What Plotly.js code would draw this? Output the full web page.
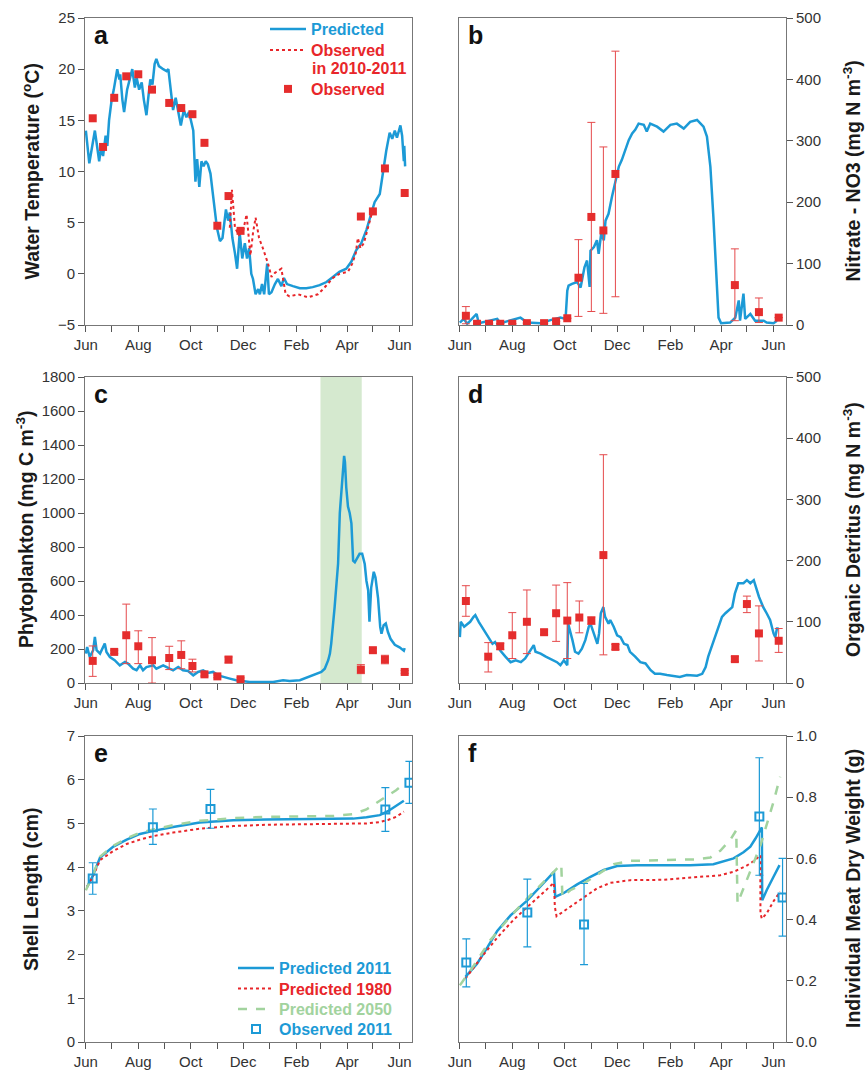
<!DOCTYPE html>
<html><head><meta charset="utf-8">
<script src="https://cdn.plot.ly/plotly-3.0.1.min.js"></script>
<style>html,body{margin:0;padding:0;background:#fff}#chart{width:867px;height:1076px}</style>
</head><body><div id="chart"></div>
<script>
// ---- x values are days since 1 June 2010 ----
const bloomPeriod = ['2011-03-01', '2011-04-18'];

// (a) water temperature
const tempPredDay = [0,4,10.5,15.5,18,20,23,25,27,30,32.5,36.5,39,40,42.5,44.5,48,52,54,57,59,62,65,67.5,70.5,73,75,77.5,80,82,85,90,94,96,98.5,101.5,104.5,107.5,110.5,114,117,120,123,125,127.5,129.5,132,134.5,137,139.5,142,145,147.5,150,152.5,156,159,163,165.5,167.5,170.5,173.5,176,179,182,185,187.5,190,192.5,194.5,197.5,200.5,202.5,205,207.5,211,213,216,220,223.5,227.5,230.5,234,241,249,256.5,264,272,280,287.5,295,303,309,314.5,320.5,326.5,332,336,342,345.5,349.5,353.5,356.5,359.5,362,366,368,370,370.5,371.5];
const tempPred = [14,10.8,14,11,12.5,11.5,13.5,12.5,15,17,18,20,19,19.5,17,15.8,18,19.5,20,18.2,19.2,18,18.7,17,15.5,17.5,19,18.5,20.5,21,20.3,20,19.8,20,18,16,17.2,16,14.5,16,15.3,15.8,14.5,14,9,11.2,8.5,11,10.5,11,10.7,9.8,8,6,4.5,3.2,3.5,6.3,5.2,6,3.5,2,0.5,4,1.5,3,1.5,2.5,0,-0.5,-2,-1.5,-2,-1,-2,1,-2,-1.8,-1,-0.5,-1.2,-0.4,-1,-1.2,-1.4,-1.4,-1.3,-1.1,-0.8,-0.3,0.2,0.5,1.2,2.3,3,4.3,6,7,7.8,9.8,12,13.8,13.2,14,13.3,14.5,13.5,11,12.5,10.5];
const tempObsLineDay = [167.5,170,173.5,178,183,187,191.5,194.5,197.5,201.5,206,212,216,220,227.5,230.5,232.5,237,247,258.5,270,276,282,287.5,295,305,310,314,316.5,319.5,323.5,327.5,331,334];
const tempObsLine = [4.5,8.2,4.5,3.8,4.2,5.8,1.8,4,5.5,3.5,2.5,1,-0.3,0.1,0.5,-1,-2,-2.2,-2,-2.3,-2,-1.5,-0.9,-0.4,0,0.2,1,2,3.5,2.5,3,4.3,5.3,6.3];
const tempObsDay = [8,20,33,47,61,77,97,111,124,138,153,166,180,320,334,348,371];
const tempObs = [15.2,12.4,17.2,19.3,19.5,18.0,16.7,16.2,15.6,12.8,4.7,7.6,4.2,5.6,6.1,10.3,7.9];

// (b) nitrate
const nitPredDay = [0,4.5,8.5,19.5,22,43.5,47.5,70.5,78.5,94,105.5,117,123,125,126.5,130.5,136.5,140.5,142,145,148,151,152,156,159.5,161.5,164.5,167.5,169.5,173,177,181,185,188.5,192.5,196.5,200.5,204,208,214,217.5,221.5,229.5,237,245,252.5,260.5,268,276,279.5,283.5,287.5,291.5,295,298.5,301,304,314.5,320.5,324.5,326,330,332,338,343.5,353.5,357,365,369];
const nitPred = [4,10,2,18,3,10,3,12,4,3,8,12,10,56,64,67,70,61,72,94,105,62,121,127,138,116,149,138,170,181,209,236,258,269,285,301,312,318,328,326,315,328,323,315,326,328,320,331,334,328,323,307,258,176,67,12,3,4,12,40,7,51,10,18,7,7,4,3,7];
const nitObsDay = [7,20,34,47,61,78,98,112,125,138,153,167,181,320,348,371];
const nitObs = [15,2,2,2,2,3,3,6,11,77,176,154,246,65,21,12];
const nitObsPlus = [15,0,0,0,0,0,0,0,0,62,154,136,200,59,23,0];
const nitObsMinus = [13,0,0,0,0,0,0,0,0,63,154,135,200,58,17,0];

// (c) phytoplankton
const phytoPredDay = [0,1.5,4.5,8.5,10.5,12.5,16.5,20,22,24,28,33.5,39.5,45.5,49,55,59,63,66.5,70.5,78.5,82,90,97.5,101.5,107.5,113,119,125,130.5,136.5,142,148,154,159.5,167.5,175,183,190.5,202.5,218,229.5,237,249,256.5,264.5,270,274,278,282,284,285.5,289.5,293.5,295.5,298.5,300.5,301.5,303,305,307,309,310,311,313,315.5,318.5,321.5,324.5,326.5,328.5,330,332,335,337,340,342.5,344,346.5,349,351.5,354.5,359.5,365,370,371];
const phytoPred = [173,212,153,193,271,193,173,212,232,183,153,134,104,124,114,84,75,104,75,94,104,84,104,84,75,94,75,71,45,65,75,59,65,45,39,26,16,10,6,6,6,16,12,16,31,45,55,65,84,134,173,232,448,703,1000,1214,1336,1300,1150,1038,1000,939,850,720,710,730,760,760,700,600,546,360,560,654,620,500,330,290,340,350,300,260,225,210,190,205];
const phytoObsDay = [8,33,47,61,77,97,111,124,138,153,166,180,320,334,348,371];
const phytoObs = [130,183,281,216,134,147,165,100,51,39,138,22,79,193,138,65];
const phytoObsPlus = [88,10,183,91,133,69,83,40,10,8,15,8,29,12,25,8];
const phytoObsMinus = [91,10,167,102,134,68,81,35,10,8,20,8,24,12,25,8];

// (d) organic detritus
const detPredDay = [0,1,5,9,12,16,18,22,28,34,38,41,47,53,59,65,71,76,82,86,88,94,100,105,113,117,121,125,126,131,134,138,142,146,150,152,156,160,162,164,167,169,173,175,179,183,187,191,195,198,204,210,216,222,227,233,241,249,256,264,276,282,286,289,293,297,301,305,309,313,317,320,324,330,334,338,342,348,353,357,361,365,367,369,371];
const detPred = [75,100,92,97,100,108,111,100,86,73,64,67,53,43,34,37,34,40,53,62,51,48,43,40,34,29,37,29,97,70,51,48,56,70,92,97,81,64,81,114,124,108,97,103,92,78,75,64,62,51,43,34,32,21,15,15,13,11,10,13,12,15,26,43,59,75,92,108,114,119,124,146,163,163,168,163,168,141,124,114,103,81,75,89,89];
const detObsDay = [7,33,47,61,78,98,112,125,139,153,167,181,320,334,348,371];
const detObs = [134,43,60,78,100,83,114,102,107,102,209,59,39,129,81,69];
const detObsPlus = [25,23,5,37,52,4,46,62,27,6,164,4,4,13,45,20];
const detObsMinus = [25,25,5,38,52,4,46,62,25,6,163,4,4,14,45,19];

// (e) shell length
const shellDay = [1.5,8.5,16.5,32,47.5,63,78.5,101.5,132.5,171.5,210,249,287.5,311,326.5,342,351.5,361,370];
const shell2011 = [3.55,3.82,4.22,4.47,4.63,4.76,4.83,4.92,5.02,5.07,5.09,5.10,5.11,5.11,5.14,5.19,5.28,5.40,5.52];
const shell1980 = [3.55,3.80,4.16,4.37,4.53,4.63,4.71,4.79,4.88,4.94,4.97,4.98,4.98,4.99,5.00,5.03,5.08,5.15,5.27];
const shell2050Day = [0,8.5,16.5,32,47.5,63,78.5,101.5,132.5,171.5,210,249,287.5,311,326.5,342,351.5,361,370];
const shell2050 = [3.47,3.84,4.24,4.49,4.66,4.79,4.86,4.96,5.06,5.12,5.15,5.16,5.17,5.21,5.32,5.52,5.64,5.76,5.90];
const shellObsDay = [8,78,145,348.5,376.5];
const shellObs = [3.74,4.91,5.33,5.32,5.93];
const shellObsPlus = [0.36,0.42,0.45,0.50,0.49];
const shellObsMinus = [0.36,0.39,0.44,0.50,0.47];

// (f) meat dry weight
const wt2011Day = [6.5,20,32,43.5,59,78.5,94,109.5,111,121,136.5,152,167.5,183,206,237,268,295,307,318.5,330,338,344,351.4,351.8,357,365,372];
const wt2011 = [0.213,0.256,0.309,0.363,0.414,0.463,0.509,0.556,0.474,0.487,0.515,0.540,0.562,0.575,0.578,0.578,0.578,0.581,0.590,0.600,0.620,0.638,0.665,0.701,0.463,0.496,0.540,0.578];
const wt1980Day = [6.5,24,43.5,63,82,101.5,109.5,110.5,112.5,128.5,144,159.5,175,198.5,237,280,303,318.5,333,343.5,349.5,349.8,351.4,357,365,372.7];
const wt1980 = [0.207,0.273,0.341,0.401,0.450,0.498,0.520,0.442,0.411,0.442,0.472,0.502,0.520,0.529,0.530,0.540,0.545,0.556,0.575,0.594,0.611,0.420,0.403,0.420,0.460,0.491];
const wt2050Day = [0,16.5,35.5,55,74.5,94,113,118,119.3,128.5,144,159.5,179,198.5,237,276,291.5,303,314.5,321.6,323.1,349.5,365,372.7];
const wt2050 = [0.185,0.251,0.333,0.398,0.458,0.513,0.567,0.581,0.474,0.496,0.518,0.545,0.581,0.592,0.594,0.597,0.603,0.625,0.660,0.692,0.453,0.640,0.785,0.867];
const wtObsDay = [7.5,78.5,144.5,348.5,375.5];
const wtObs = [0.260,0.423,0.384,0.737,0.472];
const wtObsPlus = [0.077,0.109,0.134,0.192,0.128];
const wtObsMinus = [0.080,0.112,0.131,0.192,0.126];

// ---- helpers ----
const BASE = Date.UTC(2010, 5, 1);
function toDate(d) { return new Date(BASE + Math.round(d * 86400000)).toISOString().slice(0, 19).replace('T', ' '); }
const dates = arr => arr.map(toDate);

const FONT = 'Liberation Sans, Arial, Helvetica, sans-serif';
const BLUE = '#1c9ad6', RED = '#e8262a', GREEN = '#a2d39e', SQRED = '#e52d2d';
const W = 867, H = 1076;
const px = v => v / W, py = v => 1 - v / H;

const colL = [px(85), px(412)], colR = [px(459), px(786)];
const row1 = [py(325), py(18)], row2 = [py(683), py(377)], row3 = [py(1042), py(736)];

function col(text, c) { return '<span style="color:' + c + '"><b>' + text + '</b></span>'; }

const traces = [];
function line(xa, ya, xd, yd, color, width, dash, name, legend) {
  traces.push({ type: 'scatter', mode: 'lines', x: dates(xd), y: yd, xaxis: xa, yaxis: ya,
    line: { color: color, width: width, dash: dash || 'solid' }, name: name || '', legend: legend || 'legend',
    showlegend: !!name, hoverinfo: 'skip' });
}
function pts(xa, ya, xd, yd, plus, minus, opts) {
  const t = { type: 'scatter', mode: 'markers', x: dates(xd), y: yd, xaxis: xa, yaxis: ya,
    marker: opts.marker, name: opts.name || '', legend: opts.legend || 'legend', showlegend: !!opts.name, hoverinfo: 'skip' };
  if (plus) t.error_y = { type: 'data', symmetric: false, array: plus, arrayminus: minus, color: opts.ecolor, thickness: opts.ethick || 1, width: 4 };
  traces.push(t);
}
const redSq = { symbol: 'square', size: 8, color: SQRED };
const blueOpen = { symbol: 'square-open', size: 8, color: BLUE, line: { width: 2, color: BLUE } };

// (a)
line('x', 'y', tempPredDay, tempPred, BLUE, 2.5, 'solid', col('Predicted', BLUE), 'legend');
line('x', 'y', tempObsLineDay, tempObsLine, RED, 2, 'dot', col('Observed', RED), 'legend3');
pts('x', 'y', tempObsDay, tempObs, null, null, { marker: redSq, name: col('Observed', RED), legend: 'legend4' });
// (b)
line('x2', 'y2', nitPredDay, nitPred, BLUE, 2.5);
pts('x2', 'y2', nitObsDay, nitObs, nitObsPlus, nitObsMinus, { marker: redSq, ecolor: '#e54a4c' });
// (c)
line('x3', 'y3', phytoPredDay, phytoPred, BLUE, 2.5);
pts('x3', 'y3', phytoObsDay, phytoObs, phytoObsPlus, phytoObsMinus, { marker: redSq, ecolor: '#e54a4c' });
// (d)
line('x4', 'y4', detPredDay, detPred, BLUE, 2.5);
pts('x4', 'y4', detObsDay, detObs, detObsPlus, detObsMinus, { marker: redSq, ecolor: '#e54a4c' });
// (e)
line('x5', 'y5', shellDay, shell2011, BLUE, 2.5, 'solid', col('Predicted 2011', BLUE), 'legend2');
line('x5', 'y5', shellDay, shell1980, RED, 2, 'dot', col('Predicted 1980', RED), 'legend5');
line('x5', 'y5', shell2050Day, shell2050, GREEN, 2.5, 'dash', col('Predicted 2050', GREEN), 'legend6');
pts('x5', 'y5', shellObsDay, shellObs, shellObsPlus, shellObsMinus, { marker: blueOpen, ecolor: BLUE, ethick: 1.2, name: col('Observed 2011', BLUE), legend: 'legend7' });
// (f)
line('x6', 'y6', wt2011Day, wt2011, BLUE, 2.5);
line('x6', 'y6', wt1980Day, wt1980, RED, 2, 'dot');
line('x6', 'y6', wt2050Day, wt2050, GREEN, 2.5, 'dash');
pts('x6', 'y6', wtObsDay, wtObs, wtObsPlus, wtObsMinus, { marker: blueOpen, ecolor: BLUE, ethick: 1.2 });

const tickFont = { family: FONT, size: 15, color: '#333' };
function xAxis(domain, anchor) {
  return { type: 'date', domain: domain, anchor: anchor, range: [toDate(-1), toDate(379.5)],
    tick0: '2010-06-01', dtick: 'M2', tickformat: '%b', ticks: 'outside', ticklen: 6, tickcolor: '#555', tickwidth: 1,
    minor: { tick0: '2010-06-01', dtick: 'M1', ticks: 'outside', ticklen: 6, tickcolor: '#555', tickwidth: 1, showgrid: false },
    showline: true, linecolor: '#777', linewidth: 1, mirror: true, showgrid: false, zeroline: false, tickfont: tickFont, fixedrange: true };
}
function yAxis(domain, anchor, side, range, dtick, fmt) {
  return { domain: domain, anchor: anchor, side: side, range: range, tick0: range[0], dtick: dtick, tickformat: fmt || '',
    ticks: 'outside', ticklen: 6, tickcolor: '#555', tickwidth: 1, showline: true, linecolor: '#777', linewidth: 1,
    mirror: true, showgrid: false, zeroline: false, tickfont: tickFont, fixedrange: true };
}
function legendAt(x, yc) {
  return { x: px(x), y: py(yc), xanchor: 'left', yanchor: 'middle', bgcolor: 'rgba(0,0,0,0)', borderwidth: 0,
    font: { family: FONT, size: 16 }, itemwidth: 36, tracegroupgap: 0 };
}

const titleFont = { family: FONT, size: 19.5, color: '#1a1a1a' };
function yTitle(text, x, yc) {
  return { text: '<b>' + text + '</b>', xref: 'paper', yref: 'paper', x: px(x), y: py(yc), textangle: -90,
    showarrow: false, font: titleFont, xanchor: 'center', yanchor: 'middle' };
}
function letter(t, i) {
  const s = i === 1 ? '' : String(i);
  return { text: '<b>' + t + '</b>', xref: 'x' + s + ' domain', yref: 'y' + s + ' domain', x: 0.02, y: 0.945,
    xanchor: 'left', yanchor: 'middle', showarrow: false, font: { family: FONT, size: 25, color: '#111' } };
}

const layout = {
  width: W, height: H, margin: { l: 0, r: 0, t: 0, b: 0 }, paper_bgcolor: '#fff', plot_bgcolor: '#fff',
  font: { family: FONT },
  xaxis: xAxis(colL, 'y'), yaxis: yAxis(row1, 'x', 'left', [-5, 25], 5),
  xaxis2: xAxis(colR, 'y2'), yaxis2: yAxis(row1, 'x2', 'right', [0, 500], 100),
  xaxis3: xAxis(colL, 'y3'), yaxis3: yAxis(row2, 'x3', 'left', [0, 1800], 200),
  xaxis4: xAxis(colR, 'y4'), yaxis4: yAxis(row2, 'x4', 'right', [0, 500], 100),
  xaxis5: xAxis(colL, 'y5'), yaxis5: yAxis(row3, 'x5', 'left', [0, 7], 1),
  xaxis6: xAxis(colR, 'y6'), yaxis6: yAxis(row3, 'x6', 'right', [0, 1.0], 0.2, '.1f'),
  legend: legendAt(265, 29),
  legend3: legendAt(265, 50),
  legend4: legendAt(265, 89),
  legend2: legendAt(233, 968),
  legend5: legendAt(233, 988.5),
  legend6: legendAt(233, 1009),
  legend7: legendAt(233, 1029),
  shapes: [{ type: 'rect', xref: 'x3', yref: 'y3 domain', x0: bloomPeriod[0], x1: bloomPeriod[1], y0: 0, y1: 1,
    fillcolor: '#d5e9cf', line: { width: 0 }, layer: 'below' }],
  annotations: [
    { text: col('in 2010-2011', RED), xref: 'paper', yref: 'paper', x: px(310), y: py(69), xanchor: 'left', yanchor: 'middle',
      showarrow: false, font: { family: FONT, size: 16, color: RED } },
    yTitle('Water Temperature (<sup>o</sup>C)', 31, 171.5),
    yTitle('Nitrate - NO3 (mg N m<sup>-3</sup>)', 852, 171.5),
    yTitle('Phytoplankton (mg C m<sup>-3</sup>)', 25, 530),
    yTitle('Organic Detritus (mg N m<sup>-3</sup>)', 852, 530),
    yTitle('Shell Length (cm)', 31, 889),
    yTitle('Individual Meat Dry Weight (g)', 853, 889),
    letter('a', 1), letter('b', 2), letter('c', 3), letter('d', 4), letter('e', 5), letter('f', 6)
  ]
};

Plotly.newPlot('chart', traces, layout, { staticPlot: true, displayModeBar: false });
</script>
</body></html>
